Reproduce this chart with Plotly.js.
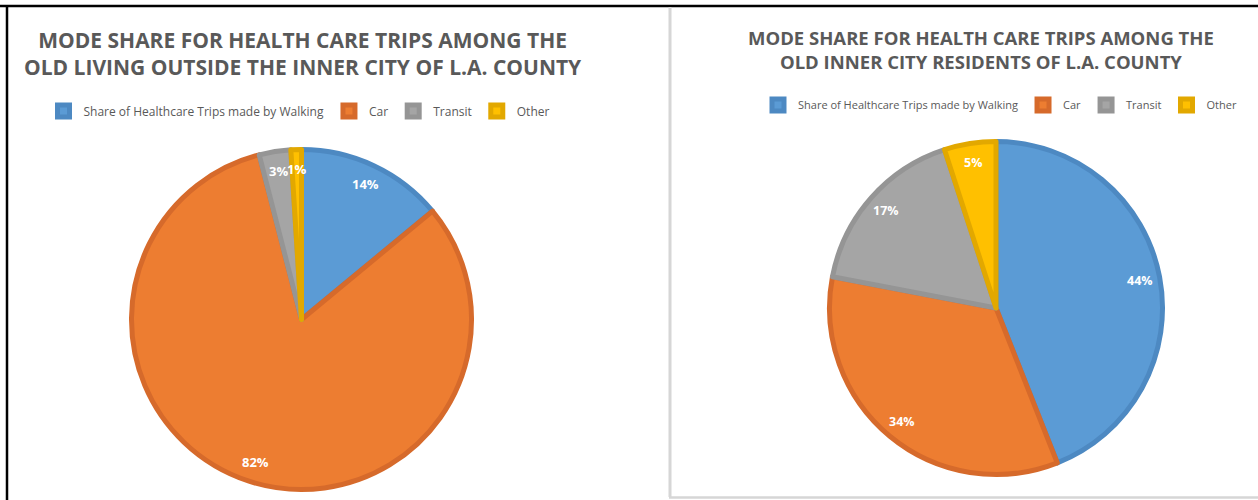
<!DOCTYPE html>
<html>
<head>
<meta charset="utf-8">
<script src="https://cdn.plot.ly/plotly-3.0.1.min.js"></script>
<style>
  html, body { margin: 0; padding: 0; background: #ffffff; }
  #chart { width: 1258px; height: 500px; }
</style>
</head>
<body>
<div id="chart"></div>
<script>
// ---- data ----
const modeLabels = ["Share of Healthcare Trips made by Walking", "Car", "Transit", "Other"];
const outsideInnerCity = [14, 82, 3, 1];
const innerCity = [44, 34, 17, 5];
const titleLeft = "MODE SHARE FOR HEALTH CARE TRIPS AMONG THE<br>OLD LIVING OUTSIDE THE INNER CITY OF L.A. COUNTY";
const titleRight = "MODE SHARE FOR HEALTH CARE TRIPS AMONG THE<br>OLD INNER CITY RESIDENTS OF L.A. COUNTY";

// ---- styles ----
const W = 1258, H = 500;
const fillColors = ["#5B9BD5", "#ED7D31", "#A5A5A5", "#FFC000"];
const lineColors = ["#4D89C2", "#D66A2B", "#959595", "#E2A800"];
const font = "'Open Sans', 'DejaVu Sans', sans-serif";
const textGray = "#595959";

// pie geometry in pixels (centre, drawn radius)
const geo = [
  {cx: 301.5, cy: 319.5, r: 170, size: 13},
  {cx: 996, cy: 308, r: 166.5, size: 12.5}
];
function domainOf(g) {
  return {
    x: [(g.cx - g.r) / W, (g.cx + g.r) / W],
    y: [1 - (g.cy + g.r) / H, 1 - (g.cy - g.r) / H]
  };
}

// second pie gets its own legend; an invisible zero-width mark keeps its entries distinct
function pieTrace(values, g, legendId, suffix) {
  return {
    type: "pie",
    labels: modeLabels.map(l => l + suffix),
    values: values,
    sort: false,
    direction: "clockwise",
    rotation: 0,
    domain: domainOf(g),
    textinfo: "none",
    hoverinfo: "label+percent",
    marker: { colors: fillColors, line: { color: lineColors, width: 5 } },
    legend: legendId,
    showlegend: true
  };
}

// percentage labels placed at each slice's mid angle
function labelAnnotations(values, g) {
  const total = values.reduce((a, b) => a + b, 0);
  const out = [];
  let cum = 0;
  values.forEach(v => {
    const mid = (cum + v / 2) / total * 2 * Math.PI;
    cum += v;
    const rr = 0.87 * (g.r + 2.5);
    const px = g.cx + rr * Math.sin(mid);
    const py = g.cy - rr * Math.cos(mid);
    out.push({
      xref: "paper", yref: "paper",
      x: px / W, y: 1 - py / H,
      xanchor: "center", yanchor: "middle",
      text: "<b>" + Math.round(v / total * 100) + "%</b>",
      showarrow: false,
      font: { family: font, size: g.size, color: "#ffffff" }
    });
  });
  return out;
}

const traces = [
  pieTrace(outsideInnerCity, geo[0], "legend", ""),
  pieTrace(innerCity, geo[1], "legend2", "\u200b")
];

const annotations = [
  {
    xref: "paper", yref: "paper", x: 302.5 / W, y: 1 - 53.5 / H,
    xanchor: "center", yanchor: "middle", showarrow: false,
    text: "<b>" + titleLeft + "</b>",
    font: { family: font, size: 21, color: textGray }
  },
  {
    xref: "paper", yref: "paper", x: 981 / W, y: 1 - 50 / H,
    xanchor: "center", yanchor: "middle", showarrow: false,
    text: "<b>" + titleRight + "</b>",
    font: { family: font, size: 18.5, color: textGray }
  }
].concat(labelAnnotations(outsideInnerCity, geo[0]), labelAnnotations(innerCity, geo[1]));

const shapes = [
  { type: "line", xref: "paper", yref: "paper", x0: 0, x1: 1, y0: 1 - 6 / H, y1: 1 - 6 / H,
    line: { color: "#000000", width: 2.5 } },
  { type: "line", xref: "paper", yref: "paper", x0: 7 / W, x1: 7 / W, y0: 0, y1: 1 - 5 / H,
    line: { color: "#000000", width: 2.5 } },
  { type: "line", xref: "paper", yref: "paper", x0: 670 / W, x1: 670 / W, y0: 1 - 497 / H, y1: 1 - 7 / H,
    line: { color: "#d6d6d6", width: 3 } },
  { type: "line", xref: "paper", yref: "paper", x0: 669 / W, x1: 1, y0: 1 - 497.5 / H, y1: 1 - 497.5 / H,
    line: { color: "#d6d6d6", width: 2.5 } }
];

const legendCommon = {
  orientation: "h",
  xanchor: "center", yanchor: "middle",
  bgcolor: "rgba(0,0,0,0)",
  itemwidth: 30,
  itemclick: false, itemdoubleclick: false
};

const layout = {
  width: W, height: H,
  margin: { l: 0, r: 0, t: 0, b: 0 },
  paper_bgcolor: "#ffffff",
  plot_bgcolor: "#ffffff",
  font: { family: font, color: textGray },
  legend: Object.assign({}, legendCommon, {
    x: 299 / W, y: 1 - 111 / H,
    font: { family: font, size: 12, color: textGray }
  }),
  legend2: Object.assign({}, legendCommon, {
    x: 1000 / W, y: 1 - 105 / H,
    font: { family: font, size: 11, color: textGray }
  }),
  annotations: annotations,
  shapes: shapes
};

Plotly.newPlot("chart", traces, layout, { displayModeBar: false });
</script>
</body>
</html>
